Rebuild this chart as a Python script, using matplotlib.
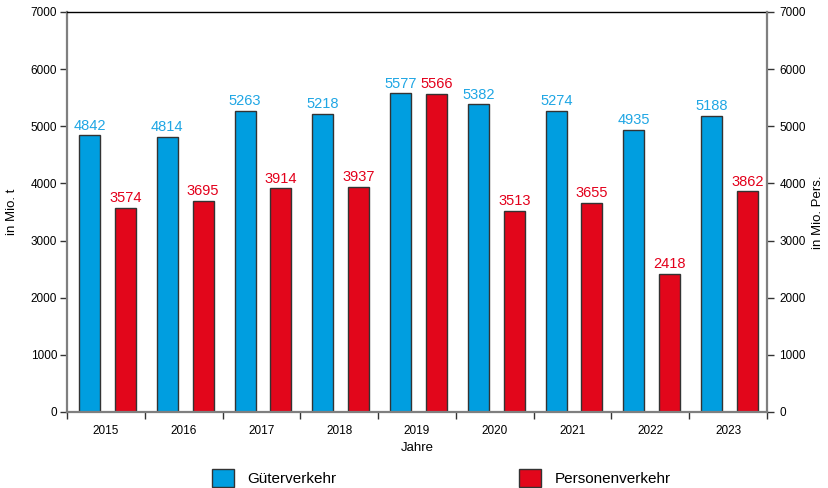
import numpy as np
import matplotlib
matplotlib.use("Agg")
import matplotlib.pyplot as plt
from matplotlib.patches import Patch

plt.rcParams["font.family"] = ["Liberation Sans", "DejaVu Sans"]

jahre = ["2015", "2016", "2017", "2018", "2019", "2020", "2021", "2022", "2023"]
gueter = [4842, 4814, 5263, 5218, 5577, 5382, 5274, 4935, 5188]
personen = [3574, 3695, 3914, 3937, 5566, 3513, 3655, 2418, 3862]

c_blue = "#009ee0"
c_red = "#e2061b"
c_blue_txt = "#1fa6e4"
c_red_txt = "#e3001b"
grey = "#7f7f7f"

fig = plt.figure(figsize=(8.29, 4.88), dpi=100)
ax = fig.add_axes([67 / 829, 1 - 412 / 488, 700 / 829, 400 / 488])

x = np.arange(len(jahre))
w = 0.27
b1 = ax.bar(x - 0.21, gueter, w, color=c_blue, edgecolor="#333333", linewidth=1, zorder=2)
b2 = ax.bar(x + 0.25, personen, w, color=c_red, edgecolor="#333333", linewidth=1, zorder=2)

for rect, v in zip(b1, gueter):
    ax.annotate(str(v), (rect.get_x() + rect.get_width() / 2, v), xytext=(0, 2),
                textcoords="offset points", ha="center", va="bottom",
                color=c_blue_txt, fontsize=10.5)
for rect, v in zip(b2, personen):
    ax.annotate(str(v), (rect.get_x() + rect.get_width() / 2, v), xytext=(0, 2),
                textcoords="offset points", ha="center", va="bottom",
                color=c_red_txt, fontsize=10.5)

ax.set_xlim(-0.5, len(jahre) - 0.5)
ax.set_ylim(0, 7000)
ax.set_yticks(range(0, 7001, 1000))

# ticks at category borders, labels at centers
ax.set_xticks(np.arange(-0.5, len(jahre), 1.0))
ax.set_xticklabels([])
ax.set_xticks(x, minor=True)
ax.set_xticklabels(jahre, minor=True)
ax.tick_params(axis="x", which="major", direction="out", length=5, width=1, color="#333333")
ax.tick_params(axis="x", which="minor", length=0, pad=9.5, labelsize=8.5)
ax.tick_params(axis="y", direction="out", length=5, width=1, color="#333333",
               pad=2, labelsize=8.5)

for s in ["left", "bottom"]:
    ax.spines[s].set_color(grey)
    ax.spines[s].set_linewidth(1.6)
ax.spines["top"].set_color("black")
ax.spines["top"].set_linewidth(1)
ax.spines["right"].set_visible(False)

ax.set_xlabel("Jahre", fontsize=9.5, va="center")
ax.xaxis.set_label_coords(0.5, (412 - 448) / 400)
ax.set_ylabel("in Mio. t", fontsize=9.5, va="center")
ax.yaxis.set_label_coords((12 - 67) / 700, 0.5)

ax2 = ax.twinx()
ax2.set_ylim(0, 7000)
ax2.set_yticks(range(0, 7001, 1000))
ax2.tick_params(axis="y", direction="out", length=5, width=1, color="#333333",
                pad=4, labelsize=8.5)
for s in ["left", "top", "bottom"]:
    ax2.spines[s].set_visible(False)
ax2.spines["right"].set_color(grey)
ax2.spines["right"].set_linewidth(1.6)
ax2.set_ylabel("in Mio. Pers.", fontsize=9.5, va="center")
ax2.yaxis.set_label_coords((818 - 67) / 700, 0.5)

handles = [Patch(facecolor=c_blue, edgecolor="#333333", linewidth=1),
           Patch(facecolor=c_red, edgecolor="#333333", linewidth=1)]
fig.legend(handles, ["Güterverkehr", "Personenverkehr"], loc="center left",
           bbox_to_anchor=(212 / 829, 1 - 478 / 488), ncol=2, frameon=False,
           fontsize=11, handlelength=1.44, handleheight=1.44, handletextpad=0.85,
           columnspacing=12, borderpad=0, borderaxespad=0)

fig.savefig("out.png", dpi=100)
